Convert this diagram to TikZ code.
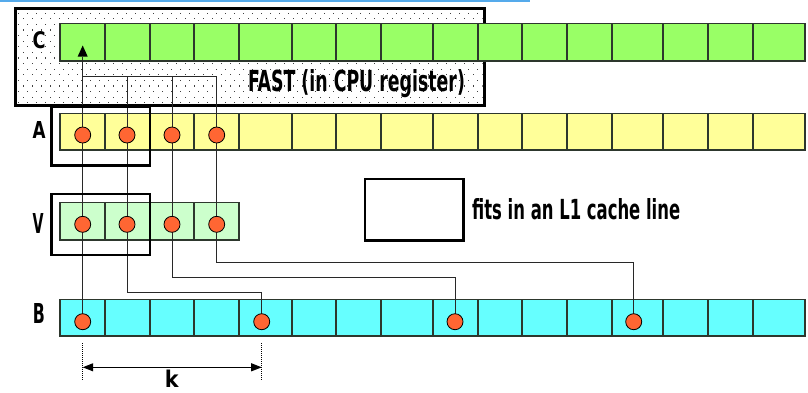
\documentclass[tikz,border=0pt]{standalone}
\usepackage{fontspec}
\usetikzlibrary{arrows.meta,calc}
\newfontfamily\handfont{DejaVu Sans Condensed Bold}

\definecolor{cgreen}{RGB}{153,255,102}
\definecolor{ayellow}{RGB}{255,255,153}
\definecolor{vgreen}{RGB}{204,255,204}
\definecolor{bcyan}{RGB}{102,255,255}
\definecolor{dotred}{RGB}{255,102,51}
\definecolor{wirecol}{RGB}{40,40,40}
\definecolor{cellline}{RGB}{45,55,45}
\definecolor{topblue}{RGB}{85,170,235}

\tikzset{
  cell/.style={draw=cellline, line width=1.2pt},
  wire/.style={draw=wirecol, line width=0.9pt},
  elem/.style={circle, fill=dotred, draw=black, line width=0.8pt,
               minimum size=16pt, inner sep=0pt},
  linebox/.style={draw=black, line width=2.6pt},
  rowlabel/.style={font=\handfont\fontsize{24}{24}\selectfont, inner sep=0pt},
  dimarrow/.style={{Triangle[length=10.5pt,width=8pt]}-{Triangle[length=10.5pt,width=8pt]}, line width=1pt},
  extline/.style={draw=black, line width=0.6pt, dash pattern=on 1pt off 1pt}
}

% boundaries of the sixteen cells of a full row
\def\cellsfull{60/105,105/150,150/194,194/239,239/292,292/336,336/381,381/433,433/478,478/522,522/567,567/612,612/663,663/708,708/753,753/805}
\def\cellsshort{60/105,105/150,150/194,194/239}

\begin{document}
\begin{tikzpicture}[x=1pt,y=-1pt]
\useasboundingbox (0,0) rectangle (808,392);

% thin blue strip along the top edge
\fill[topblue] (0,0) rectangle (530,2);

% register area: white, dotted, heavy frame
\fill[white] (15,8.7) rectangle (484,105);
\begin{scope}
  \clip (16.5,10.2) rectangle (482.5,103.5);
  \foreach \j in {0,...,16} {
    \foreach \i in {0,...,52} {
      \fill[black!75] ({18+9*\i+4.5*mod(\j,2)}, {12.5+5.6*\j}) rectangle +(1.2,1.2);
    }
  }
\end{scope}
\draw[line width=3pt] (15,8.7) rectangle (484,105);

% array rows
\foreach \a/\b in \cellsfull { \draw[cell, fill=cgreen]  (\a,23.3)  rectangle (\b,61); }
\foreach \a/\b in \cellsfull { \draw[cell, fill=ayellow] (\a,113.3) rectangle (\b,150); }
\foreach \a/\b in \cellsshort{ \draw[cell, fill=vgreen]  (\a,202.7) rectangle (\b,240); }
\foreach \a/\b in \cellsfull { \draw[cell, fill=bcyan]   (\a,299.3) rectangle (\b,336); }

% element positions
\coordinate (pa1) at (82.7,135);  \coordinate (pa2) at (127,135);
\coordinate (pa3) at (172,135);   \coordinate (pa4) at (216.7,135);
\coordinate (pv1) at (82.7,224.3); \coordinate (pv2) at (127,224.3);
\coordinate (pv3) at (172,224.3);  \coordinate (pv4) at (216.7,224.3);
\coordinate (pb1) at (82.7,321.7); \coordinate (pb2) at (261.7,321.7);
\coordinate (pb3) at (455,321.7);  \coordinate (pb4) at (633.7,321.7);
\coordinate (ctop) at (82.7,45.5);
\coordinate (cbase) at (82.7,56.5);
\coordinate (bus) at (0,76);
\coordinate (j2) at (261.7,292.3);
\coordinate (j3) at (455,277.3);
\coordinate (j4) at (633.7,262);

% accumulation into C, ending in a solid arrowhead
\draw[wire] (pa1) -- (cbase);
\fill[black] (ctop) -- ($(cbase)+(-5,0)$) -- ($(cbase)+(5,0)$) -- cycle;
\draw[wire] (pa4) -- (pa4 |- bus) -- (pa1 |- bus);
\draw[wire] (pa2) -- (pa2 |- bus);
\draw[wire] (pa3) -- (pa3 |- bus);

% A to V
\draw[wire] (pa1) -- (pv1);
\draw[wire] (pa2) -- (pv2);
\draw[wire] (pa3) -- (pv3);
\draw[wire] (pa4) -- (pv4);

% V to B, stride k
\draw[wire] (pv1) -- (pb1);
\draw[wire] (pv2) |- (j2) -- (pb2);
\draw[wire] (pv3) |- (j3) -- (pb3);
\draw[wire] (pv4) |- (j4) -- (pb4);

% elements
\foreach \n in {a1,a2,a3,a4,v1,v2,v3,v4,b1,b2,b3,b4} {
  \node[elem] (\n) at (p\n) {};
}

% cache-line frames
\draw[linebox] (51.7,106.7) rectangle (150,165.7);
\draw[linebox] (51.7,194) rectangle (150,255);
\node[linebox, minimum width=98.3pt, minimum height=61.7pt, inner sep=0pt]
  (legendbox) at (414.2,209.9) {};
\node[anchor=base west, inner sep=0pt] (legendtext) at (472,219.3)
  {\resizebox{208pt}{21pt}{\handfont fits in an L1 cache line}};

% row labels
\node[rowlabel] (lblC) at (39,40) {\resizebox{13pt}{17pt}{C}};
\node[rowlabel] (lblA) at (39,130) {\resizebox{13pt}{17pt}{A}};
\node[rowlabel] (lblV) at (38,223) {\resizebox{11pt}{20pt}{V}};
\node[rowlabel] (lblB) at (39,313.5) {\resizebox{12pt}{20pt}{B}};

% register caption
\node[anchor=base, inner sep=0pt] (fast) at (356.5,91)
  {\resizebox{217pt}{22pt}{\handfont FAST (in CPU register)}};

% stride dimension
\coordinate (e1a) at (82.7,343);  \coordinate (e1b) at (82.7,380);
\coordinate (e2a) at (261.7,343); \coordinate (e2b) at (261.7,380);
\draw[extline] (e1a) -- (e1b);
\draw[extline] (e2a) -- (e2b);
\coordinate (k1) at (82.7,367.3);
\coordinate (k2) at (261.7,367.3);
\draw[dimarrow] (k1) -- (k2);
\node[anchor=north, inner sep=0pt, font=\handfont\fontsize{23}{23}\selectfont] (klabel) at (171.7,370) {k};
\end{tikzpicture}
\end{document}
